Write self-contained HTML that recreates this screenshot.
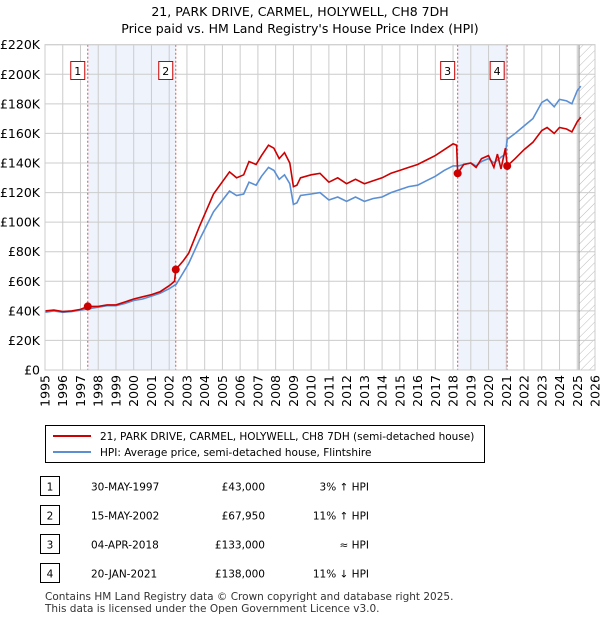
<!DOCTYPE html>
<html><head><meta charset="utf-8"><style>
body{margin:0;background:#fff;font-family:"Liberation Sans","DejaVu Sans",sans-serif;}
svg text{font-family:"DejaVu Sans","Liberation Sans",sans-serif;}
</style></head><body>
<svg id="c" width="600" height="620" xmlns="http://www.w3.org/2000/svg">
<text x="300" y="16" text-anchor="middle" font-size="12.5">21, PARK DRIVE, CARMEL, HOLYWELL, CH8 7DH</text>
<text x="300" y="33" text-anchor="middle" font-size="12.5">Price paid vs. HM Land Registry's House Price Index (HPI)</text>
<g id="plot"></g>
<g>
<rect x="45.5" y="425.5" width="439" height="37" fill="#fff" stroke="#000" stroke-width="1"/>
<line x1="53" y1="436" x2="91" y2="436" stroke="#cc0000" stroke-width="2"/>
<text x="100" y="440" font-size="10.5">21, PARK DRIVE, CARMEL, HOLYWELL, CH8 7DH (semi-detached house)</text>
<line x1="53" y1="452" x2="91" y2="452" stroke="#5b8fd4" stroke-width="2"/>
<text x="100" y="456" font-size="10.5">HPI: Average price, semi-detached house, Flintshire</text>
</g>
<g id="table" font-size="10.5"></g>
<text x="45" y="600" font-size="10.5" fill="#333">Contains HM Land Registry data © Crown copyright and database right 2025.</text>
<text x="45" y="612" font-size="10.5" fill="#333">This data is licensed under the Open Government Licence v3.0.</text>
</svg>
<script>
const hpiDates=[1995,1995.5,1996,1996.5,1997,1997.5,1998,1998.5,1999,1999.5,2000,2000.5,2001,2001.5,2002,2002.4,2002.8,2003.1,2003.7,2004.5,2005.4,2005.8,2006.2,2006.5,2006.9,2007.2,2007.6,2007.9,2008.2,2008.5,2008.8,2009.0,2009.2,2009.4,2010,2010.5,2011,2011.5,2012,2012.5,2013,2013.5,2014,2014.5,2015,2015.5,2016,2016.5,2017,2017.5,2018,2018.3,2018.6,2019,2019.3,2019.6,2020,2020.3,2020.7,2020.95,2021.05,2021.5,2022,2022.5,2023,2023.3,2023.7,2024,2024.4,2024.7,2025,2025.2];
const hpiValues=[39,40,39,39.5,40.5,41.5,42.5,43.5,43.5,45,47,48,50,52,55,58,66,72,88,107,121,118,119,127,125,131,137,135,129,132,126,112,113,118,119,120,115,117,114,117,114,116,117,120,122,124,125,128,131,135,138,138,139,140,138,141,143,140,144,146,156,160,165,170,181,183,178,183,182,180,189,192];
const paidDates=[1995,1995.5,1996,1996.5,1997,1997.41,1998,1998.5,1999,1999.5,2000,2000.5,2001,2001.5,2002,2002.3,2002.37,2002.8,2003.1,2003.7,2004.5,2005.4,2005.8,2006.2,2006.5,2006.9,2007.2,2007.6,2007.9,2008.2,2008.5,2008.8,2009.0,2009.2,2009.4,2010,2010.5,2011,2011.5,2012,2012.5,2013,2013.5,2014,2014.5,2015,2015.5,2016,2016.5,2017,2017.5,2018,2018.2,2018.26,2018.6,2019,2019.3,2019.6,2020,2020.3,2020.5,2020.7,2020.95,2021.05,2021.5,2022,2022.5,2023,2023.3,2023.7,2024,2024.4,2024.7,2025,2025.2];
const paidValues=[40,40.5,39.5,40,41,43,43,44,44,46,48,49.5,51,53,57,60,67.95,74,79,97,119,134,130,132,141,139,145,152,150,143,147,140,124,125,130,132,133,127,130,126,129,126,128,130,133,135,137,139,142,145,149,153,152,133,139,140,137,143,145,137,146,136,150,138,143,149,154,162,164,160,164,163,161,168,171];
const saleDates=[1997.41,2002.37,2018.26,2021.05];
const saleValues=[43,67.95,133,138];
const saleLabels=["1","2","3","4"];
const saleDateText=["30-MAY-1997","15-MAY-2002","04-APR-2018","20-JAN-2021"];
const salePriceText=["£43,000","£67,950","£133,000","£138,000"];
const saleHpiText=["3% ↑ HPI","11% ↑ HPI","≈ HPI","11% ↓ HPI"];
const yTicks=[0,20,40,60,80,100,120,140,160,180,200,220];
const xTicks=[];for(let y=1995;y<=2026;y++)xTicks.push(y);

const X0=45,X1=595,Y0=370,Y1=44.7;
const xs=t=>X0+(t-1995)*(X1-X0)/31;
const ys=v=>Y0-v*(Y0-Y1)/220;
const NS="http://www.w3.org/2000/svg";
const plot=document.getElementById('plot');
function mk(tag,attrs,parent){const e=document.createElementNS(NS,tag);for(const k in attrs)e.setAttribute(k,attrs[k]);(parent||plot).appendChild(e);return e;}
// bands
[[0,1],[2,3]].forEach((p,i)=>{const r=mk('rect',{x:xs(saleDates[p[0]]),y:Y1,width:xs(saleDates[p[1]])-xs(saleDates[p[0]]),height:Y0-Y1,fill:'#eef3fc'});

});
// hatch
const defs=mk('defs',{});const pat=mk('pattern',{id:'h',width:6,height:6,patternUnits:'userSpaceOnUse',patternTransform:'rotate(45)'},defs);mk('line',{x1:0,y1:0,x2:0,y2:6,stroke:'#bbb','stroke-width':1},pat);
const hx=xs(2025.1);
const hr=mk('rect',{x:hx,y:Y1,width:X1-hx,height:Y0-Y1,fill:'url(#h)'});


// grid
yTicks.forEach(v=>{const l=mk('line',{x1:X0,x2:X1,y1:ys(v),y2:ys(v),stroke:'#cccccc','stroke-width':1});


const t=mk('text',{x:X0-5,y:ys(v)+4.5,'text-anchor':'end','font-size':12.5});t.textContent=v===0?'£0':'£'+v+'K';

});
xTicks.forEach(y=>{const l=mk('line',{x1:xs(y),x2:xs(y),y1:Y1,y2:Y0,stroke:'#cccccc','stroke-width':1});


const t=mk('text',{x:0,y:0,'font-size':12.5,'text-anchor':'end',transform:`translate(${xs(y)+4.5},${Y0+5}) rotate(-90)`});t.textContent=y;

});
const vl=mk('line',{x1:hx,x2:hx,y1:Y1,y2:Y0,stroke:'#888','stroke-width':1});


// sale lines
saleDates.forEach((d,i)=>{const l=mk('line',{x1:xs(d),x2:xs(d),y1:Y1,y2:Y0,stroke:'#e05050','stroke-width':1,'stroke-dasharray':'2,2'});

});
function path(ds,vs){return ds.map((d,i)=>(i?'L':'M')+xs(d).toFixed(1)+','+ys(vs[i]).toFixed(1)).join('');}
const hp=mk('path',{d:path(hpiDates,hpiValues),fill:'none',stroke:'#5b8fd4','stroke-width':1.6});


const pp=mk('path',{d:path(paidDates,paidValues),fill:'none',stroke:'#cc0000','stroke-width':1.6});


saleDates.forEach((d,i)=>{const c=mk('circle',{cx:xs(d),cy:ys(saleValues[i]),r:4,fill:'#cc0000'});


const g=mk('g',{});


mk('rect',{x:xs(d)-17,y:61.5,width:14,height:18,fill:'#fff',stroke:'#cc0000','stroke-width':1},g);
const t=mk('text',{x:xs(d)-10,y:75,'text-anchor':'middle','font-size':11},g);t.textContent=saleLabels[i];});
mk('rect',{x:X0,y:Y1,width:X1-X0,height:Y0-Y1,fill:'none',stroke:'#cccccc'});
// table
const tb=document.getElementById('table');
const rowY=[487,516,545,574];
saleLabels.forEach((s,i)=>{const g=mk('g',{},tb);


mk('rect',{x:40.5,y:rowY[i]-10.5,width:19,height:19,fill:'#fff',stroke:'#000'},g);
const a=mk('text',{x:50,y:rowY[i]+3.5,'text-anchor':'middle'},g);a.textContent=s;
const b=mk('text',{x:91,y:rowY[i]+3.5},g);b.textContent=saleDateText[i];
const c=mk('text',{x:265,y:rowY[i]+3.5,'text-anchor':'end'},g);c.textContent=salePriceText[i];
const e=mk('text',{x:369,y:rowY[i]+3.5,'text-anchor':'end'},g);e.textContent=saleHpiText[i];});
</script>
</body></html>
